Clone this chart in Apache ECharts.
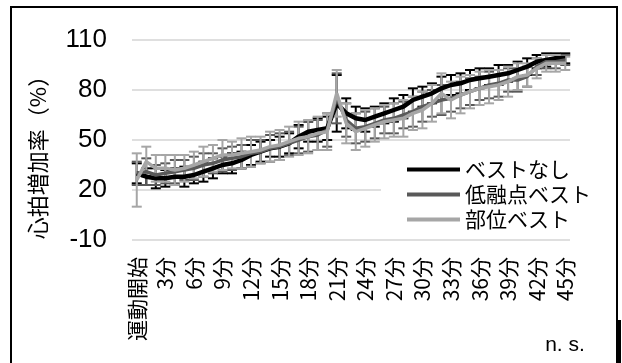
<!DOCTYPE html>
<html>
<head>
<meta charset="utf-8">
<script src="https://cdn.jsdelivr.net/npm/echarts@6/dist/echarts.min.js"></script>
<style>
  html, body { margin: 0; padding: 0; background: #fff; }
  #chart { width: 622px; height: 363px; }
</style>
</head>
<body>
<div id="chart"></div>
<script>
// Time points: start of exercise, then every minute up to 45 min
const categories = ['運動開始'];
for (let m = 1; m <= 45; m++) categories.push(m + '分');

const seriesNames = ['ベストなし', '低融点ベスト', '部位ベスト'];

// Heart-rate increase (%) — mean values
const noVest = [30, 28, 27, 27, 28, 28, 29, 31, 33, 35, 36, 38, 41, 43, 45, 46, 48, 52, 55, 56, 57, 72, 66, 63, 62, 64, 66, 68, 70, 74, 76, 78, 81, 83, 84, 86, 87, 88, 89, 90, 92, 94, 97, 98, 99, 99];
const lowMeltVest = [30, 31, 29, 30, 31, 32, 33, 35, 36, 38, 39, 40, 42, 43, 45, 46, 48, 50, 52, 53, 56, 75, 62, 57, 58, 60, 62, 63, 65, 67, 70, 72, 74, 75, 77, 79, 81, 83, 84, 86, 86, 88, 94, 97, 97, 98];
const partVest = [26, 37, 33, 33, 32, 33, 35, 37, 39, 41, 41, 42, 43, 44, 46, 47, 49, 51, 52, 54, 55, 78, 60, 55, 57, 59, 61, 62, 63, 66, 68, 72, 78, 74, 77, 79, 81, 82, 83, 85, 88, 89, 93, 96, 96, 96];

// Standard deviations (error bar half-lengths)
const noVestErr = [6, 5, 6, 5, 5, 6, 5, 6, 6, 5, 6, 5, 6, 6, 5, 6, 6, 7, 6, 7, 7, 17, 9, 7, 7, 6, 6, 7, 7, 7, 6, 6, 7, 6, 6, 6, 6, 5, 6, 5, 5, 5, 4, 4, 3, 3];
const lowMeltVestErr = [7, 8, 6, 6, 7, 6, 7, 7, 6, 7, 7, 7, 8, 7, 8, 8, 7, 8, 9, 9, 10, 15, 10, 9, 9, 9, 8, 9, 8, 9, 9, 8, 9, 8, 8, 8, 7, 8, 8, 7, 7, 6, 5, 4, 4, 3];
const partVestErr = [16, 9, 8, 8, 9, 8, 8, 9, 8, 9, 8, 9, 9, 8, 9, 9, 9, 10, 10, 10, 11, 14, 12, 11, 11, 10, 10, 10, 11, 10, 11, 11, 12, 11, 11, 10, 10, 10, 9, 9, 8, 7, 6, 5, 5, 4];

const yTicks = [-10, 20, 50, 80, 110];

const colors = ['#000000', '#595959', '#a6a6a6'];
const means = [noVest, lowMeltVest, partVest];
const errs = [noVestErr, lowMeltVestErr, partVestErr];
const lineWidths = [4.5, 3.5, 3.5];

function errorBarRenderer(color) {
  return function (params, api) {
    const i = api.value(0);
    const lo = api.coord([i, api.value(1)]);
    const hi = api.coord([i, api.value(2)]);
    const half = 5;
    const style = { stroke: color, lineWidth: 2 };
    return {
      type: 'group',
      children: [
        { type: 'line', shape: { x1: lo[0], y1: lo[1], x2: hi[0], y2: hi[1] }, style },
        { type: 'line', shape: { x1: lo[0] - half, y1: lo[1], x2: lo[0] + half, y2: lo[1] }, style },
        { type: 'line', shape: { x1: hi[0] - half, y1: hi[1], x2: hi[0] + half, y2: hi[1] }, style }
      ]
    };
  };
}

const series = [];
// error bars first, lines drawn over them
means.forEach((m, k) => {
  series.push({
    type: 'custom',
    name: seriesNames[k] + '_err',
    renderItem: errorBarRenderer(colors[k]),
    data: m.map((v, i) => [i, v - errs[k][i], v + errs[k][i]]),
    encode: { x: 0, y: [1, 2] },
    z: 1 + k,
    silent: true
  });
});
means.forEach((m, k) => {
  series.push({
    type: 'line',
    name: seriesNames[k],
    data: m,
    symbol: 'none',
    color: colors[k],
    lineStyle: { color: colors[k], width: lineWidths[k] },
    z: 10 + k,
    animation: false
  });
});

const chart = echarts.init(document.getElementById('chart'), null, { renderer: 'canvas' });
chart.setOption({
  animation: false,
  backgroundColor: '#fff',
  grid: { left: 132, right: 52, top: 40, bottom: 123, containLabel: false },
  xAxis: {
    type: 'category',
    data: categories,
    boundaryGap: true,
    axisLine: { show: false },
    axisTick: { show: false },
    axisLabel: {
      interval: 2,
      rotate: 90,
      margin: 17,
      color: '#000',
      fontSize: 21,
      fontFamily: 'Noto Sans CJK JP'
    }
  },
  yAxis: {
    type: 'value',
    min: yTicks[0],
    max: yTicks[yTicks.length - 1],
    interval: 30,
    axisLine: { show: false },
    axisTick: { show: false },
    axisLabel: {
      margin: 25,
      color: '#000',
      fontSize: 26,
      fontFamily: 'Liberation Sans'
    },
    splitLine: { lineStyle: { color: '#d4d4d4', width: 1.5 } }
  },
  legend: {
    data: seriesNames.map((n, k) => ({ name: n, icon: 'rect', itemStyle: { color: colors[k] } })),
    orient: 'vertical',
    left: 381,
    top: 158,
    padding: [1, 8, 3, 26],
    itemWidth: 53,
    itemHeight: 4,
    itemGap: 4,
    backgroundColor: '#fff',
    textStyle: { color: '#000', fontSize: 21, fontFamily: 'Noto Sans CJK JP' }
  },
  graphic: [
    {
      type: 'text',
      x: 38,
      y: 152,
      rotation: Math.PI / 2,
      style: {
        text: '心拍増加率（%）',
        fill: '#000',
        font: '22px "Noto Sans CJK JP"',
        align: 'center',
        verticalAlign: 'middle'
      }
    },
    {
      type: 'text',
      x: 565,
      y: 345,
      style: {
        text: 'n. s.',
        fill: '#000',
        font: '21px "Liberation Sans"',
        align: 'center',
        verticalAlign: 'middle'
      }
    },
    {
      type: 'rect',
      shape: { x: 11, y: 7, width: 606, height: 370 },
      style: { fill: 'none', stroke: '#000', lineWidth: 2 }
    },
    {
      type: 'rect',
      shape: { x: 617, y: 320, width: 4, height: 50 },
      style: { fill: '#000' }
    }
  ],
  series
});
</script>
</body>
</html>
